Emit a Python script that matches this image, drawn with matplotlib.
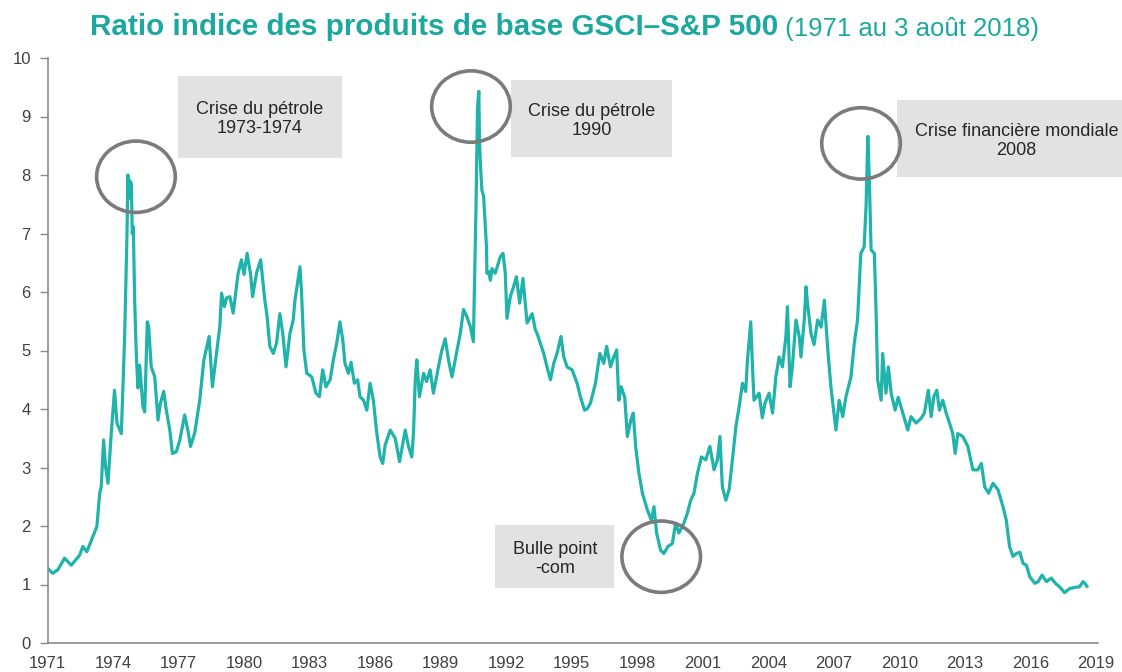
import matplotlib
matplotlib.use("Agg")
import matplotlib.pyplot as plt
from matplotlib.patches import Ellipse, Rectangle

plt.rcParams['font.family'] = ['Liberation Sans', 'DejaVu Sans']

# ---- data ----
years = [
    1971.00, 1971.24, 1971.47, 1971.78, 1972.09, 1972.47, 1972.62, 1972.80, 1973.08, 1973.26,
    1973.39, 1973.46, 1973.57, 1973.66, 1973.77, 1973.92, 1974.07, 1974.18, 1974.38, 1974.53,
    1974.58, 1974.64, 1974.68, 1974.72, 1974.78, 1974.84, 1974.88, 1974.93, 1974.99, 1975.07,
    1975.14, 1975.22, 1975.37, 1975.45, 1975.57, 1975.63, 1975.75, 1975.91, 1976.06, 1976.17,
    1976.32, 1976.44, 1976.60, 1976.72, 1976.90, 1977.06, 1977.28, 1977.44, 1977.55, 1977.74,
    1977.97, 1978.16, 1978.28, 1978.40, 1978.55, 1978.74, 1978.89, 1978.97, 1979.10, 1979.20,
    1979.35, 1979.50, 1979.73, 1979.88, 1980.00, 1980.14, 1980.30, 1980.39, 1980.57, 1980.76,
    1980.95, 1981.05, 1981.18, 1981.34, 1981.49, 1981.64, 1981.77, 1981.92, 1982.10, 1982.25,
    1982.33, 1982.56, 1982.63, 1982.74, 1982.87, 1983.10, 1983.29, 1983.45, 1983.60, 1983.75,
    1983.94, 1984.09, 1984.24, 1984.39, 1984.52, 1984.62, 1984.78, 1984.90, 1985.05, 1985.20,
    1985.31, 1985.47, 1985.62, 1985.77, 1985.92, 1986.08, 1986.23, 1986.35, 1986.46, 1986.69,
    1986.92, 1987.12, 1987.38, 1987.53, 1987.68, 1987.76, 1987.84, 1987.91, 1988.03, 1988.22,
    1988.36, 1988.52, 1988.67, 1988.90, 1989.06, 1989.21, 1989.36, 1989.52, 1989.67, 1989.90,
    1990.05, 1990.20, 1990.36, 1990.50, 1990.62, 1990.69, 1990.75, 1990.78, 1990.82, 1990.89,
    1990.97, 1991.05, 1991.10, 1991.12, 1991.20, 1991.28, 1991.35, 1991.50, 1991.73, 1991.86,
    1991.96, 1992.04, 1992.19, 1992.34, 1992.47, 1992.62, 1992.77, 1992.96, 1993.19, 1993.34,
    1993.42, 1993.57, 1993.72, 1993.87, 1994.03, 1994.18, 1994.33, 1994.51, 1994.64, 1994.79,
    1995.02, 1995.25, 1995.40, 1995.59, 1995.71, 1995.86, 1996.09, 1996.29, 1996.47, 1996.60,
    1996.78, 1996.93, 1997.06, 1997.16, 1997.27, 1997.43, 1997.55, 1997.71, 1997.82, 1997.93,
    1998.08, 1998.24, 1998.47, 1998.65, 1998.77, 1998.89, 1999.07, 1999.22, 1999.41, 1999.61,
    1999.76, 1999.91, 2000.14, 2000.30, 2000.45, 2000.60, 2000.76, 2000.94, 2001.14, 2001.33,
    2001.52, 2001.67, 2001.79, 2001.90, 2002.06, 2002.21, 2002.36, 2002.52, 2002.67, 2002.82,
    2002.97, 2003.05, 2003.20, 2003.28, 2003.35, 2003.58, 2003.73, 2003.85, 2004.04, 2004.20,
    2004.35, 2004.50, 2004.65, 2004.81, 2004.88, 2005.00, 2005.10, 2005.27, 2005.42, 2005.50,
    2005.65, 2005.73, 2005.80, 2005.96, 2006.10, 2006.26, 2006.42, 2006.57, 2006.73, 2006.87,
    2007.10, 2007.25, 2007.41, 2007.56, 2007.79, 2007.94, 2008.09, 2008.24, 2008.39, 2008.48,
    2008.56, 2008.63, 2008.71, 2008.86, 2008.94, 2009.01, 2009.17, 2009.24, 2009.39, 2009.50,
    2009.63, 2009.81, 2009.95, 2010.16, 2010.39, 2010.54, 2010.77, 2011.00, 2011.15, 2011.33,
    2011.46, 2011.58, 2011.72, 2011.84, 2011.99, 2012.15, 2012.30, 2012.45, 2012.56, 2012.68,
    2012.91, 2013.14, 2013.37, 2013.60, 2013.76, 2013.91, 2014.09, 2014.29, 2014.52, 2014.75,
    2014.90, 2015.05, 2015.21, 2015.36, 2015.52, 2015.67, 2015.82, 2015.98, 2016.21, 2016.36,
    2016.54, 2016.74, 2016.96, 2017.15, 2017.34, 2017.57, 2017.80, 2018.03, 2018.25, 2018.42,
    2018.52, 2018.59,
]
ratio = [
    1.28, 1.19, 1.25, 1.45, 1.33, 1.50, 1.65, 1.56, 1.82, 1.99,
    2.56, 2.67, 3.47, 3.01, 2.73, 3.59, 4.32, 3.76, 3.58, 5.20,
    6.00, 7.00, 8.00, 7.60, 7.90, 7.85, 7.00, 7.12, 5.86, 4.89,
    4.36, 4.75, 4.04, 3.95, 5.49, 5.41, 4.72, 4.55, 3.81, 4.10,
    4.30, 3.98, 3.64, 3.24, 3.27, 3.47, 3.90, 3.61, 3.36, 3.59,
    4.15, 4.84, 5.04, 5.24, 4.38, 4.95, 5.41, 5.98, 5.75, 5.90,
    5.92, 5.64, 6.32, 6.55, 6.30, 6.66, 6.30, 5.92, 6.32, 6.55,
    5.86, 5.60, 5.07, 4.95, 5.13, 5.63, 5.30, 4.72, 5.29, 5.52,
    5.86, 6.43, 6.00, 5.01, 4.61, 4.55, 4.27, 4.21, 4.67, 4.38,
    4.50, 4.84, 5.12, 5.49, 5.18, 4.78, 4.61, 4.80, 4.44, 4.50,
    4.21, 4.15, 3.98, 4.44, 4.15, 3.58, 3.18, 3.07, 3.38, 3.64,
    3.50, 3.10, 3.64, 3.36, 3.18, 3.60, 4.50, 4.84, 4.21, 4.61,
    4.47, 4.67, 4.27, 4.72, 5.01, 5.20, 4.84, 4.55, 4.84, 5.29,
    5.70, 5.58, 5.41, 5.15, 7.46, 9.17, 9.43, 8.60, 8.20, 7.74,
    7.63, 7.12, 6.77, 6.32, 6.35, 6.20, 6.40, 6.32, 6.60, 6.66,
    6.32, 5.55, 5.92, 6.09, 6.26, 5.81, 6.23, 5.47, 5.63, 5.35,
    5.29, 5.12, 4.95, 4.72, 4.50, 4.78, 4.95, 5.24, 4.89, 4.72,
    4.67, 4.44, 4.21, 3.98, 4.00, 4.10, 4.44, 4.95, 4.78, 5.07,
    4.72, 4.89, 5.01, 4.15, 4.38, 4.20, 3.53, 3.81, 3.93, 3.36,
    2.90, 2.56, 2.27, 2.10, 2.33, 1.88, 1.59, 1.53, 1.65, 1.70,
    2.05, 1.88, 2.05, 2.22, 2.44, 2.56, 2.90, 3.18, 3.13, 3.36,
    2.96, 3.13, 3.53, 2.67, 2.44, 2.62, 3.13, 3.70, 4.04, 4.44,
    4.30, 4.84, 5.49, 4.72, 4.15, 4.27, 3.85, 4.10, 4.27, 3.93,
    4.55, 4.89, 4.72, 5.24, 5.75, 4.38, 4.70, 5.52, 5.24, 4.89,
    5.52, 6.09, 5.80, 5.29, 5.10, 5.52, 5.40, 5.86, 5.00, 4.38,
    3.64, 4.15, 3.87, 4.21, 4.55, 5.12, 5.52, 6.66, 6.77, 7.46,
    8.66, 7.91, 6.72, 6.66, 5.64, 4.50, 4.15, 4.95, 4.27, 4.72,
    4.27, 3.98, 4.20, 3.93, 3.64, 3.87, 3.76, 3.84, 3.93, 4.32,
    3.87, 4.21, 4.32, 3.98, 4.15, 3.93, 3.76, 3.58, 3.24, 3.58,
    3.53, 3.36, 2.96, 2.96, 3.07, 2.67, 2.56, 2.73, 2.62, 2.33,
    2.10, 1.65, 1.48, 1.53, 1.55, 1.36, 1.33, 1.13, 1.02, 1.05,
    1.16, 1.05, 1.11, 1.02, 0.96, 0.86, 0.93, 0.95, 0.96, 1.05,
    1.01, 0.97,
]
xtick_years = list(range(1971, 2020, 3))
yticks = list(range(0, 11))

title_bold = "Ratio indice des produits de base GSCI\u2013S&P 500"
title_rest = " (1971 au 3 ao\u00fbt 2018)"

annotation_labels = [
    "Crise du p\u00e9trole\n1973-1974",
    "Crise du p\u00e9trole\n1990",
    "Crise financi\u00e8re mondiale\n2008",
    "Bulle point\n-com",
]
# circle centres (data units)
circle_centres = [(1975.05, 7.97), (1990.39, 9.17), (2008.25, 8.54), (1999.10, 1.475)]
# boxes: (x0, x1, y0, y1) in data units
boxes = [
    (1976.98, 1984.49, 8.29, 9.69),
    (1992.23, 1999.60, 8.31, 9.62),
    (2009.91, 2020.30, 7.97, 9.28),
    (1991.50, 1996.95, 0.94, 2.02),
]
# label centres (data units)
label_centres = [(1980.73, 8.95), (1995.9, 8.92), (2015.36, 8.58), (1994.25, 1.44)]

TEAL = '#1fb3ab'
TITLE_TEAL = '#1ba89f'
GRAY_AX = '#8a8a8a'
TXT = '#404040'

fig = plt.figure(figsize=(11.22, 6.72), dpi=100)
ax = fig.add_axes([47.5 / 1122, 29 / 672, (1098 - 47.5) / 1122, 585 / 672])

ax.plot(years, ratio, color=TEAL, lw=2.3, solid_joinstyle='round')

ax.set_xlim(1971, 2019.1)
ax.set_ylim(0, 10)
ax.set_xticks(xtick_years)
ax.set_yticks(yticks)
ax.tick_params(axis='x', length=0, pad=9, labelsize=12, labelcolor=TXT)
ax.tick_params(axis='y', length=6, width=1, color=GRAY_AX, pad=6, labelsize=12, labelcolor=TXT)
for s in ['top', 'right']:
    ax.spines[s].set_visible(False)
for s in ['left', 'bottom']:
    ax.spines[s].set_color(GRAY_AX)
    ax.spines[s].set_linewidth(1.2)

for label, (cx, cy), (x0, x1, y0, y1), (lx, ly) in zip(
        annotation_labels, circle_centres, boxes, label_centres):
    ax.add_patch(Rectangle((x0, y0), x1 - x0, y1 - y0, facecolor='#e2e2e2',
                           edgecolor='none', clip_on=False, zorder=3))
    ax.text(lx, ly, label, ha='center', va='center',
            fontsize=13, color='#262626', linespacing=1.15, zorder=4, clip_on=False)
    ax.add_patch(Ellipse((cx, cy), 3.6, 1.22, facecolor='none', edgecolor='#7b7b7b',
                         lw=2.6, clip_on=False, zorder=5))

t1 = fig.text(90 / 1122, 1 - 35 / 672, title_bold, ha='left', va='baseline',
              fontsize=21.3, fontweight='bold', color=TITLE_TEAL)
ax.annotate(title_rest, xy=(1, 0), xycoords=t1, ha='left', va='bottom',
            fontsize=18.5, color=TITLE_TEAL, annotation_clip=False)

fig.savefig('out.png', dpi=100)
